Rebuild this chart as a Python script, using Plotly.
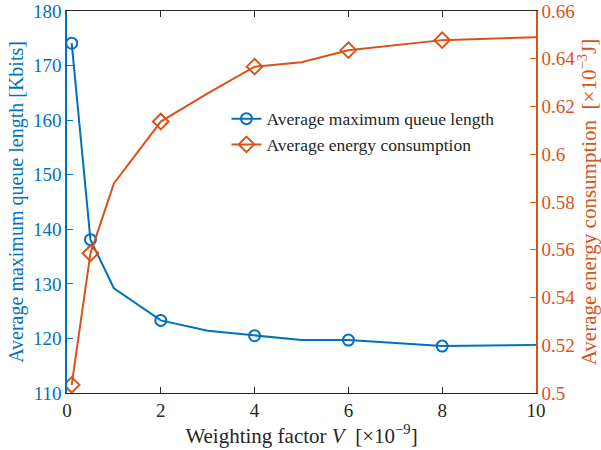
import plotly.graph_objects as go

v = [0.1, 0.5, 1, 2, 3, 4, 5, 6, 8, 10]
queue = [174.1, 138.1, 129.2, 123.3, 121.4, 120.5, 119.7, 119.7, 118.6, 118.8]
energy = [0.5034, 0.5585, 0.5878, 0.6137, 0.6255, 0.6367, 0.6385, 0.6436, 0.6478, 0.6490]
marker_v = [0.1, 0.5, 2, 4, 6, 8]
queue_name = "Average maximum queue length"
energy_name = "Average energy consumption"

blue = "#0072BD"
orange = "#D95319"
dark = "#262626"
font = "'Liberation Serif', 'DejaVu Serif', serif"

def sel(xs, ys, keep):
    return [y if x in keep else None for x, y in zip(xs, ys)]

def f(size, color):
    return dict(family=font, size=size, color=color)

fig = go.Figure()
fig.add_trace(go.Scatter(x=v, y=queue, mode="lines", line=dict(color=blue, width=2),
                         showlegend=False, hoverinfo="skip"))
fig.add_trace(go.Scatter(x=v, y=energy, mode="lines", line=dict(color=orange, width=2),
                         showlegend=False, hoverinfo="skip", yaxis="y2"))
fig.add_trace(go.Scatter(x=v, y=sel(v, queue, marker_v), mode="markers", showlegend=False,
                         marker=dict(symbol="circle-open", size=11, color=blue, line=dict(width=2))))
fig.add_trace(go.Scatter(x=v, y=sel(v, energy, marker_v), mode="markers", showlegend=False,
                         yaxis="y2",
                         marker=dict(symbol="diamond-open", size=12, color=orange, line=dict(width=2))))
# legend entries
fig.add_trace(go.Scatter(x=[None], y=[None], mode="lines+markers", name=queue_name,
                         line=dict(color=blue, width=2),
                         marker=dict(symbol="circle-open", size=11, color=blue, line=dict(width=2))))
fig.add_trace(go.Scatter(x=[None], y=[None], mode="lines+markers", name=energy_name, yaxis="y2",
                         line=dict(color=orange, width=2),
                         marker=dict(symbol="diamond-open", size=12, color=orange, line=dict(width=2))))

fig.update_layout(
    width=601, height=450,
    margin=dict(l=67, r=65, t=11, b=57, autoexpand=False),
    plot_bgcolor="white", paper_bgcolor="white",
    font=f(18, dark),
    xaxis=dict(range=[0, 10], tickvals=[0, 2, 4, 6, 8, 10], ticks="inside", ticklen=6,
               tickcolor=dark, linecolor=dark, linewidth=1.2, mirror="ticks", automargin=False,
               showgrid=False, zeroline=False, tickfont=f(19, dark),
               title=dict(text="Weighting factor <i>V</i>  [×10<sup>−9</sup>]", standoff=3,
                          font=f(21, dark))),
    yaxis=dict(range=[110, 180], tickvals=[110, 120, 130, 140, 150, 160, 170, 180],
               ticks="inside", ticklen=6, tickcolor=blue, linecolor=blue, linewidth=1.5,
               automargin=False,
               showgrid=False, zeroline=False, tickfont=f(19, blue),
               title=dict(text="Average maximum queue length [Kbits]", standoff=4,
                          font=f(20, blue))),
    yaxis2=dict(range=[0.5, 0.66], overlaying="y", side="right",
                tickvals=[0.5, 0.52, 0.54, 0.56, 0.58, 0.6, 0.62, 0.64, 0.66],
                ticktext=["0.5", "0.52", "0.54", "0.56", "0.58", "0.6", "0.62", "0.64", "0.66"],
                ticks="inside", ticklen=6, tickcolor=orange, linecolor=orange, linewidth=1.5,
                automargin=False,
                showgrid=False, zeroline=False, tickfont=f(19, orange),
                title=dict(text="Average energy consumption  [×10<sup>−3</sup>J]", standoff=4,
                           font=f(21, orange))),
    legend=dict(x=0.34, y=0.765, xanchor="left", yanchor="top", bgcolor="rgba(255,255,255,0)",
                font=f(17.5, dark), tracegroupgap=0, itemwidth=30),
    showlegend=True,
)

fig.write_html("out.html")
